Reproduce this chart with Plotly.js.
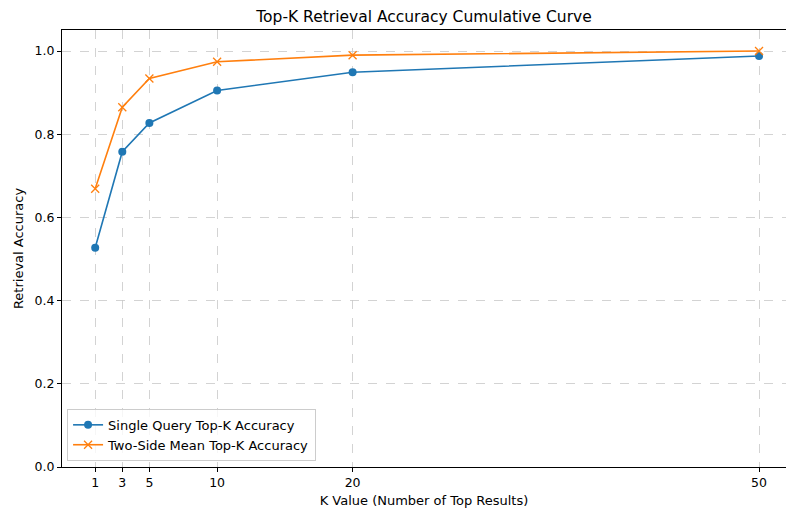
<!DOCTYPE html>
<html>
<head>
<meta charset="utf-8">
<script src="https://cdn.plot.ly/plotly-3.0.1.min.js"></script>
<style>html,body{margin:0;padding:0;background:#fff;}#chart{width:786px;height:510px;}</style>
</head>
<body>
<div id="chart"></div>
<script>
const kValues = [1, 3, 5, 10, 20, 50];
const singleQuery = [0.527, 0.758, 0.827, 0.905, 0.949, 0.988];
const twoSideMean = [0.669, 0.865, 0.934, 0.974, 0.990, 1.000];
const yTicks = [0, 0.2, 0.4, 0.6, 0.8, 1.0];
const yTickLabels = ['0.0', '0.2', '0.4', '0.6', '0.8', '1.0'];
const xTickLabels = ['1', '3', '5', '10', '20', '50'];

const font = 'DejaVu Sans, sans-serif';

const traces = [
  {
    x: kValues, y: singleQuery, mode: 'lines+markers', type: 'scatter',
    name: 'Single Query Top-K Accuracy',
    line: {color: '#1f77b4', width: 1.6},
    marker: {symbol: 'circle', size: 8, color: '#1f77b4'}
  },
  {
    x: kValues, y: twoSideMean, mode: 'lines+markers', type: 'scatter',
    name: 'Two-Side Mean Top-K Accuracy',
    line: {color: '#ff7f0e', width: 1.6},
    marker: {symbol: 'x-thin', size: 8, color: '#ff7f0e', line: {color: '#ff7f0e', width: 1.3}}
  }
];

const layout = {
  width: 786, height: 510,
  margin: {l: 62, r: 0, t: 30, b: 43, pad: 0},
  paper_bgcolor: '#fff', plot_bgcolor: '#fff',
  font: {family: font, size: 13, color: '#000'},
  title: {text: 'Top-K Retrieval Accuracy Cumulative Curve', font: {family: font, size: 15.5, color: '#000'},
          x: 0.5, xref: 'paper', y: 1 - 17/510, yref: 'container', yanchor: 'middle'},
  showlegend: true,
  legend: {x: 0.007, y: 0.014, xanchor: 'left', yanchor: 'bottom',
           bgcolor: 'rgba(255,255,255,0.8)', bordercolor: '#cccccc', borderwidth: 1,
           font: {family: font, size: 13, color: '#000'}, tracegroupgap: 0},
  xaxis: {
    range: [-1.45, 51.99], tickmode: 'array', tickvals: kValues, ticktext: xTickLabels,
    showgrid: true, gridcolor: '#c8c8c8', griddash: 'dash', gridwidth: 0.8,
    showline: true, linecolor: '#000', linewidth: 1, mirror: true,
    ticks: 'outside', ticklen: 4, tickcolor: '#000', zeroline: false,
    tickfont: {family: font, size: 12.5},
    title: {text: 'K Value (Number of Top Results)', font: {family: font, size: 13}, standoff: 6}
  },
  yaxis: {
    range: [0, 1.0505], tickmode: 'array', tickvals: yTicks, ticktext: yTickLabels,
    showgrid: true, gridcolor: '#c8c8c8', griddash: 'dash', gridwidth: 0.8,
    showline: true, linecolor: '#000', linewidth: 1, mirror: false,
    ticks: 'outside', ticklen: 4, tickcolor: '#000', zeroline: false,
    tickfont: {family: font, size: 12.5},
    title: {text: 'Retrieval Accuracy', font: {family: font, size: 13}, standoff: 8}
  }
};

Plotly.newPlot('chart', traces, layout, {displayModeBar: false, staticPlot: true});
</script>
</body>
</html>
